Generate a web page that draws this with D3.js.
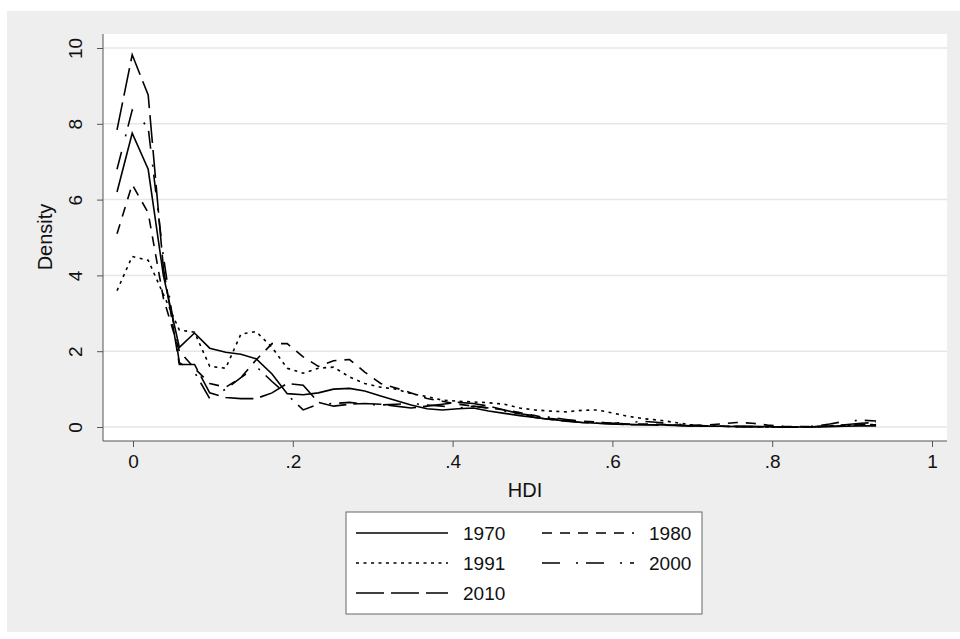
<!DOCTYPE html>
<html>
<head>
<meta charset="utf-8">
<script src="https://cdn.jsdelivr.net/npm/d3@7"></script>
<style>
  body { margin: 0; background: #fff; }
  text { font-family: "Liberation Sans", Arial, sans-serif; fill: #111; }
</style>
</head>
<body>
<script>
// evaluation grid (HDI) and densities per year
var hdi = [-0.020, -0.001, 0.019, 0.038, 0.058, 0.077, 0.096, 0.116, 0.135, 0.154,
  0.174, 0.193, 0.213, 0.232, 0.251, 0.271, 0.290, 0.310, 0.329, 0.348,
  0.368, 0.387, 0.407, 0.426, 0.445, 0.465, 0.484, 0.503, 0.523, 0.542,
  0.562, 0.581, 0.600, 0.620, 0.639, 0.659, 0.678, 0.697, 0.717, 0.736,
  0.756, 0.775, 0.794, 0.814, 0.833, 0.853, 0.872, 0.891, 0.911, 0.930];

var d1970 = [6.2, 7.75, 6.8, 4.0, 2.1, 2.48, 2.08, 1.97, 1.92, 1.8, 1.4, 0.88, 0.85, 0.9, 1.0, 1.02, 0.95, 0.82, 0.7, 0.58,
  0.48, 0.45, 0.48, 0.5, 0.42, 0.36, 0.3, 0.25, 0.2, 0.16, 0.12, 0.1, 0.08, 0.07, 0.06, 0.06, 0.05, 0.03, 0.02, 0.02,
  0.01, 0.01, 0.01, 0.0, 0.0, 0.0, 0.01, 0.02, 0.03, 0.03];
var d1980 = [5.1, 6.4, 5.65, 3.4, 2.0, 1.55, 1.15, 1.05, 1.3, 1.77, 2.2, 2.2, 1.85, 1.6, 1.75, 1.78, 1.45, 1.15, 1.03, 0.9,
  0.75, 0.68, 0.6, 0.55, 0.5, 0.45, 0.38, 0.3, 0.22, 0.18, 0.15, 0.13, 0.1, 0.08, 0.08, 0.07, 0.05, 0.04, 0.05, 0.08,
  0.12, 0.1, 0.05, 0.02, 0.01, 0.01, 0.02, 0.04, 0.06, 0.06];
var d1991 = [3.6, 4.5, 4.4, 3.5, 2.56, 2.5, 1.6, 1.55, 2.45, 2.52, 2.1, 1.55, 1.42, 1.55, 1.58, 1.32, 1.15, 1.05, 1.0, 0.88,
  0.8, 0.71, 0.68, 0.66, 0.64, 0.6, 0.5, 0.45, 0.42, 0.4, 0.44, 0.45, 0.37, 0.28, 0.22, 0.18, 0.12, 0.06, 0.03, 0.02,
  0.01, 0.01, 0.0, 0.0, 0.0, 0.01, 0.02, 0.04, 0.06, 0.07];
var d2000 = [6.8, 8.36, 7.9, 4.5, 1.7, 1.45, 0.75, 1.0, 1.3, 1.6, 1.2, 0.85, 0.45, 0.6, 0.62, 0.65, 0.6, 0.58, 0.6, 0.62,
  0.58, 0.55, 0.5, 0.55, 0.5, 0.42, 0.35, 0.3, 0.25, 0.2, 0.15, 0.12, 0.1, 0.12, 0.15, 0.12, 0.08, 0.05, 0.03, 0.02,
  0.02, 0.01, 0.0, 0.0, 0.0, 0.02, 0.08, 0.15, 0.18, 0.16];
var d2010 = [7.84, 9.82, 8.76, 4.2, 1.65, 1.65, 0.9, 0.78, 0.75, 0.75, 0.9, 1.15, 1.1, 0.65, 0.55, 0.6, 0.62, 0.6, 0.55, 0.5,
  0.55, 0.6, 0.65, 0.62, 0.55, 0.45, 0.35, 0.25, 0.2, 0.15, 0.12, 0.1, 0.08, 0.06, 0.06, 0.05, 0.04, 0.03, 0.02, 0.02,
  0.01, 0.01, 0.0, 0.0, 0.0, 0.01, 0.03, 0.06, 0.1, 0.12];

var years = ["1970", "1980", "1991", "2000", "2010"];
var dens = [d1970, d1980, d1991, d2000, d2010];
var dashes = ["none", "10,8", "3,4.5", "18,16,2,8", "28,7"];

var xTicks = [0, 0.2, 0.4, 0.6, 0.8, 1];
var xTickLabels = ["0", ".2", ".4", ".6", ".8", "1"];
var yTicks = [0, 2, 4, 6, 8, 10];

var svg = d3.select("body").append("svg").attr("width", 960).attr("height", 639);

// gray graph region + white plot region
svg.append("rect").attr("x", 7).attr("y", 11).attr("width", 953).attr("height", 621).style("fill", "#eeeeee");
svg.append("rect").attr("x", 103).attr("y", 34).attr("width", 844).attr("height", 407).style("fill", "#fff");

var x = d3.scaleLinear().domain([0, 1]).range([133, 932]);
var y = d3.scaleLinear().domain([0, 10]).range([427, 48]);

// gridlines
svg.append("g").selectAll("line").data(yTicks).enter().append("line")
  .attr("x1", 103).attr("x2", 947)
  .attr("y1", function(d) { return y(d); }).attr("y2", function(d) { return y(d); })
  .style("stroke", "#e6e6e6").style("stroke-width", 1.5);

// axes
var xAxis = svg.append("g").attr("transform", "translate(0,441)")
  .call(d3.axisBottom(x).tickValues(xTicks).tickSize(6).tickPadding(8)
    .tickFormat(function(d, i) { return xTickLabels[i]; }));
xAxis.select(".domain").attr("d", "M103,0H947").style("stroke", "#555");
xAxis.selectAll(".tick line").style("stroke", "#555");
xAxis.selectAll("text").style("font-size", "19px").style("font-family", "Liberation Sans, Arial, sans-serif").style("fill", "#111");

var yAxis = svg.append("g").attr("transform", "translate(103,0)")
  .call(d3.axisLeft(y).tickValues(yTicks).tickSize(6).tickFormat(d3.format("d")));
yAxis.select(".domain").attr("d", "M0,34V441").style("stroke", "#555");
yAxis.selectAll(".tick line").style("stroke", "#555");
yAxis.selectAll("text")
  .attr("x", null).attr("dy", null)
  .attr("transform", "translate(-28,0) rotate(-90)")
  .attr("text-anchor", "middle").attr("dominant-baseline", "central")
  .style("font-size", "19px").style("font-family", "Liberation Sans, Arial, sans-serif").style("fill", "#111");

svg.append("text").attr("transform", "translate(45,237) rotate(-90)")
  .attr("text-anchor", "middle").attr("dominant-baseline", "central")
  .style("font-size", "20px").text("Density");
svg.append("text").attr("x", 525).attr("y", 497).attr("text-anchor", "middle")
  .style("font-size", "20px").text("HDI");

// density curves
var line = d3.line().x(function(d, i) { return x(hdi[i]); }).y(function(d) { return y(d); });
svg.append("g").selectAll("path").data(dens).enter().append("path")
  .attr("d", line)
  .style("fill", "none").style("stroke", "#000").style("stroke-width", 1.6)
  .style("stroke-dasharray", function(d, i) { return dashes[i]; });

// legend
var leg = svg.append("g");
leg.append("rect").attr("x", 346).attr("y", 512).attr("width", 356).attr("height", 102)
  .style("fill", "#fff").style("stroke", "#666").style("stroke-width", 1);
var lEnter = leg.selectAll("g.item").data(years).enter().append("g")
  .attr("transform", function(d, i) {
    return "translate(" + (i % 2 == 0 ? 356 : 542) + "," + (533 + 30 * Math.floor(i / 2)) + ")";
  });
lEnter.append("line").attr("x1", 0).attr("x2", 92).attr("y1", 0).attr("y2", 0)
  .style("stroke", "#000").style("stroke-width", 1.6)
  .style("stroke-dasharray", function(d, i) { return dashes[i]; });
lEnter.append("text").attr("x", 107).attr("y", 0).attr("dominant-baseline", "central")
  .style("font-size", "19px").text(String);
</script>
</body>
</html>
